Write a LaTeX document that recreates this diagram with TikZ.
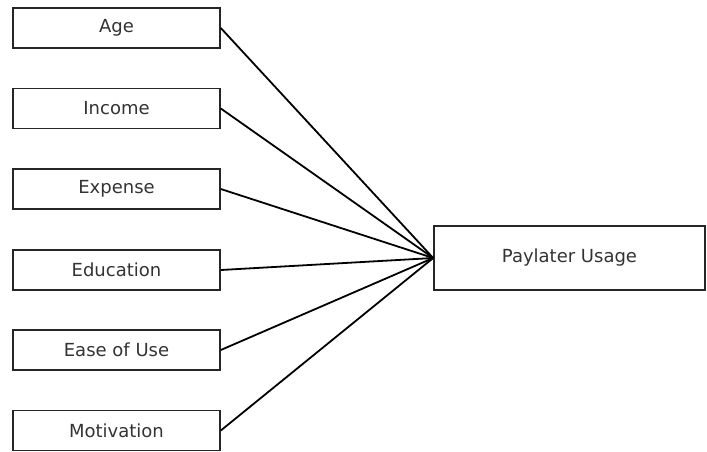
\documentclass[tikz,border=0pt]{standalone}
\usepackage{fontspec}
\setmainfont{DejaVu Sans}
\begin{document}
\begin{tikzpicture}[x=1pt,y=-1pt,
  box/.style={draw=black!85, line width=1.6pt, minimum width=207pt, minimum height=40pt, inner sep=0pt, font=\fontsize{18}{20}\selectfont, text=black!80},
  link/.style={draw=black, line width=1.8pt}]
\useasboundingbox (0,0) rectangle (707,451);
\node[box] (age) at (116.5,28) {Age};
\node[box] (inc) at (116.5,108.5) {Income};
\node[box] (exp) at (116.5,189) {Expense};
\node[box] (edu) at (116.5,270) {Education};
\node[box] (eas) at (116.5,350) {Ease of Use};
\node[box] (mot) at (116.5,430.5) {Motivation};
\node[box, minimum width=271pt, minimum height=64pt] (pay) at (569.5,258) {Paylater Usage};
\foreach \n in {age,inc,exp,edu,eas,mot}
  \draw[link] (\n.east) -- (pay.west);
\end{tikzpicture}
\end{document}
